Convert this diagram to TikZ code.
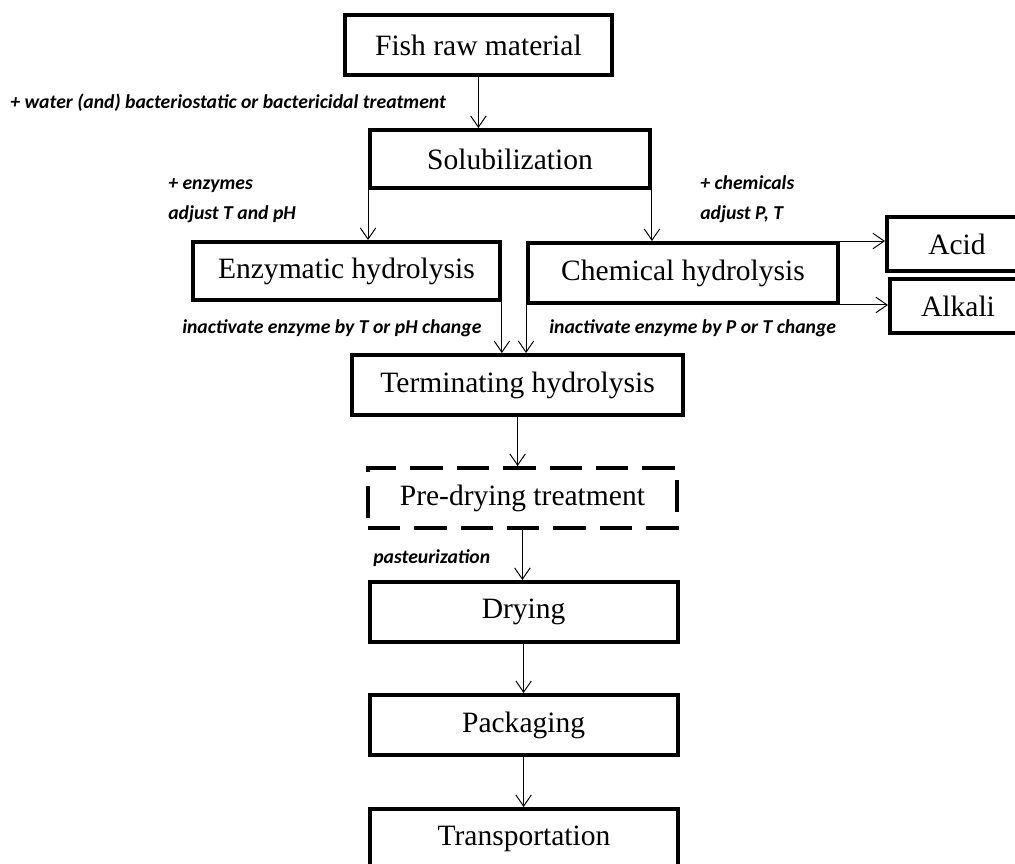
\documentclass[tikz,border=0pt]{standalone}
\usepackage{fontspec}
\setmainfont{Liberation Serif}
\newfontfamily\notefont{Carlito}
\usetikzlibrary{arrows.meta}

\begin{document}
\begin{tikzpicture}[>={Straight Barb[length=8pt,width=11pt]},
  stepbox/.style={draw,line width=2.8pt,minimum width=7.7cm,minimum height=1.5cm,
    inner sep=0pt,font=\fontsize{21}{25}\selectfont},
  prebox/.style={stepbox,dash pattern=on 23pt off 10pt},
  flow/.style={->,line width=0.7pt},
  note/.style={anchor=base west,inner sep=0pt,font=\notefont\bfseries\itshape\fontsize{14}{17}\selectfont}]

  % 画布大小(与原图比例一致)
  \useasboundingbox (0,0) rectangle (25.375,-21.6);

  % 主流程方框
  \node[stepbox,minimum width=6.675cm] (fish) at (11.96,-1.125) {Fish raw material};
  \node[stepbox,minimum width=7.0cm,minimum height=1.45cm] (sol) at (12.75,-3.975) {Solubilization};
  \node[stepbox,minimum width=7.675cm,minimum height=1.45cm] (enz) at (8.66,-6.775) {Enzymatic hydrolysis};
  \node[stepbox,minimum width=7.75cm] (chem) at (17.075,-6.825) {Chemical hydrolysis};
  \node[stepbox,minimum width=8.275cm] (term) at (12.94,-9.625) {Terminating hydrolysis};
  \node[prebox,minimum width=7.725cm] (pre) at (13.06,-12.45) {Pre-drying treatment};
  \node[stepbox] (dry) at (13.09,-15.3) {Drying};
  \node[stepbox] (pack) at (13.09,-18.125) {Packaging};
  \node[stepbox] (trans) at (13.1,-20.975) {Transportation};

  % 右侧:酸 / 碱
  \node[stepbox,minimum width=3.5cm,minimum height=1.35cm] (acid) at (23.925,-6.1) {Acid};
  \node[stepbox,minimum width=3.4cm,minimum height=1.35cm] (alkali) at (23.95,-7.65) {Alkali};

  % 箭头
  \draw[flow] (fish.south) -- (fish.south |- sol.north);
  \draw[flow] (sol.south west) -- (sol.south west |- enz.north);
  \draw[flow] (sol.south east) -- (sol.south east |- chem.north);
  \draw[flow] (chem.north east) -- (chem.north east -| acid.west);
  \draw[flow] (chem.south east) -- (chem.south east -| alkali.west);
  \draw[flow] (enz.south east) -- (enz.south east |- term.north);
  \draw[flow] (chem.south west) -- (chem.south west |- term.north);
  \draw[flow] (term.south) -- (term.south |- pre.north);
  \draw[flow] (pre.south) -- (pre.south |- dry.north);
  \draw[flow] (dry.south) -- (dry.south |- pack.north);
  \draw[flow] (pack.south) -- (pack.south |- trans.north);

  % 说明文字
  \node[note] (water) at (0.25,-2.725) {+ water (and) bacteriostatic or bactericidal treatment};
  \node[note] (enzadd) at (4.2,-4.75) {+ enzymes};
  \node[note] (enzset) at (4.2,-5.5) {adjust T and pH};
  \node[note] (chemadd) at (17.5,-4.75) {+ chemicals};
  \node[note] (chemset) at (17.5,-5.5) {adjust P, T};
  \node[note] (enzstop) at (4.55,-8.325) {inactivate enzyme by T or pH change};
  \node[note] (chemstop) at (13.725,-8.325) {inactivate enzyme by P or T change};
  \node[note] (past) at (9.325,-14.075) {pasteurization};

\end{tikzpicture}
\end{document}
